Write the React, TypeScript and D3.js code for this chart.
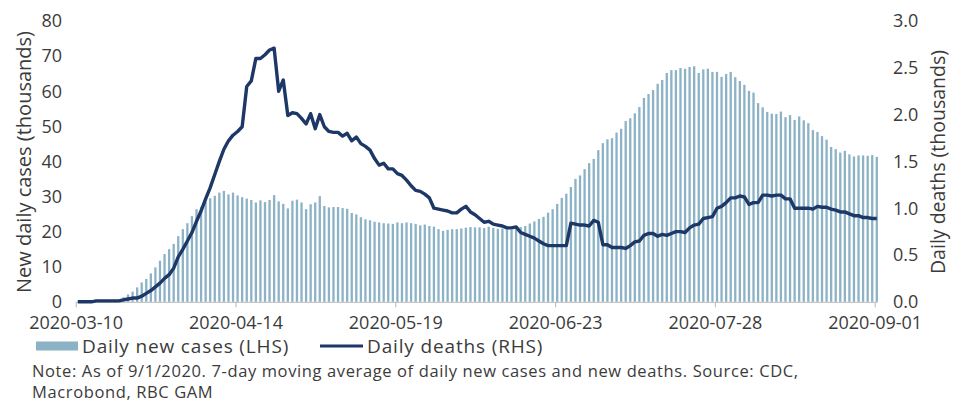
import React from "react";
import * as d3 from "d3";

const startDate = "2020-03-10";
const endDate = "2020-09-01";
const tickLabels = ["2020-03-10", "2020-04-14", "2020-05-19", "2020-06-23", "2020-07-28", "2020-09-01"];
const leftTicks = [0, 10, 20, 30, 40, 50, 60, 70, 80];
const rightTicks = [0, 0.5, 1, 1.5, 2, 2.5, 3];

// Daily new cases, 7-day moving average (thousands)
const cases = [
  0.1, 0.1, 0.1, 0.1, 0.1, 0.2, 0.2, 0.3, 0.4,
  0.5, 1.3, 2.1, 2.9, 4.1, 5.5, 6.5, 8.1, 9.8, 11.7, 13.6, 15.0, 16.5, 18.7, 20.7, 22.4, 24.4, 26.4, 27.1, 28.5, 29.5, 30.2, 31.1, 31.6, 30.6, 31.1, 30.3,
  29.8, 29.4, 29.0, 28.3, 28.9, 28.4, 29.0, 30.4, 28.6, 27.9, 26.6, 28.8, 29.1, 28.3, 26.4, 27.8, 28.3, 30.1, 27.3, 26.9, 27.0, 27.0, 26.7, 26.5, 25.3, 24.9, 24.1, 23.5, 23.2, 22.8, 22.6, 22.4, 22.3, 22.2, 22.6,
  22.4, 22.6, 22.4, 22.2, 21.8, 22.0, 21.6, 21.4, 20.7, 20.2, 20.5, 20.7, 20.7, 20.9, 21.1, 21.3, 21.2, 21.2, 21.0, 21.4, 21.0, 20.8, 20.9, 20.7, 20.5, 20.9, 21.3, 21.6, 22.3, 22.9, 23.6, 24.2, 25.4, 26.4, 27.9,
  29.6, 30.8, 32.7, 35.0, 36.0, 37.8, 39.5, 40.7, 43.2, 45.2, 46.3, 46.6, 48.2, 49.3, 51.5, 52.3, 53.7, 55.5, 58.1, 59.2, 60.3, 62.1, 63.2, 65.2, 66.0, 66.0, 66.6, 66.4, 66.9, 67.1, 65.2, 66.2, 66.4, 65.5, 65.5,
  64.1, 64.9, 65.5, 64.0, 62.9, 61.8, 60.1, 59.6, 56.6, 55.4, 54.1, 53.6, 53.5, 54.2, 52.6, 53.2, 51.8, 52.8, 51.7, 50.9, 48.9, 48.4, 47.2, 46.2, 44.1, 43.5, 42.5, 43.0, 42.0, 41.4, 41.7, 41.7, 41.6, 41.8, 41.3,
];

// Daily deaths, 7-day moving average (thousands)
const deaths = [
  0.0, 0.0, 0.0, 0.0, 0.01, 0.01, 0.01, 0.01, 0.01, 0.01, 0.02, 0.03, 0.04, 0.04, 0.06, 0.09, 0.12,
  0.16, 0.2, 0.25, 0.29, 0.36, 0.48, 0.56, 0.65, 0.74, 0.86, 0.97, 1.1, 1.22, 1.36, 1.5, 1.63, 1.72, 1.78, 1.82,
  1.87, 2.3, 2.36, 2.6, 2.6, 2.64, 2.69, 2.71, 2.25, 2.37, 1.99, 2.02, 2.01, 1.96, 1.9, 2.01, 1.85, 2.0, 1.87, 1.82, 1.81, 1.81, 1.77, 1.8, 1.72, 1.76, 1.69, 1.66, 1.62, 1.53, 1.46, 1.48, 1.42, 1.42, 1.37,
  1.35, 1.3, 1.24, 1.19, 1.18, 1.15, 1.11, 1.0, 0.99, 0.98, 0.97, 0.95, 0.95, 0.99, 1.02, 0.96, 0.93, 0.89, 0.85, 0.86, 0.83, 0.82, 0.81, 0.79, 0.79, 0.8, 0.74, 0.72, 0.7, 0.68, 0.65, 0.62, 0.6, 0.6, 0.6,
  0.6, 0.6, 0.84, 0.83, 0.82, 0.82, 0.81, 0.87, 0.85, 0.61, 0.61, 0.58, 0.58, 0.58, 0.57, 0.6, 0.64, 0.65, 0.71, 0.73, 0.73, 0.7, 0.72, 0.71, 0.73, 0.75, 0.75, 0.74, 0.79, 0.82, 0.83, 0.89, 0.9, 0.91, 1.0,
  1.02, 1.06, 1.11, 1.11, 1.13, 1.12, 1.04, 1.06, 1.06, 1.14, 1.14, 1.13, 1.14, 1.14, 1.1, 1.1, 1.0, 1.0, 1.0, 1.0, 0.99, 1.02, 1.01, 1.01, 0.99, 0.98, 0.96, 0.96, 0.94, 0.92, 0.92, 0.9, 0.9, 0.89, 0.89,
];

const BAR = "#8cb2c5";
const LINE = "#1d3767";
const TEXT = "#3b3b3b";
const FONT = "'Open Sans', sans-serif";

export default function App() {
  const W = 961;
  const H = 403;
  const parse = d3.utcParse("%Y-%m-%d");
  const t0 = parse(startDate)!;
  const t1 = parse(endDate)!;
  const dates = d3.utcDay.range(t0, d3.utcDay.offset(t1, 1));

  const x = d3.scaleUtc().domain([t0, t1]).range([77.8, 876.8]);
  const yL = d3.scaleLinear().domain([0, 80]).range([301.8, 21]);
  const yR = d3.scaleLinear().domain([0, 3]).range([301.8, 21]);
  const barW = 2.3;

  const line = d3
    .line<number>()
    .x((_, i) => x(dates[i]))
    .y((d) => yR(d));

  const axisY = 302.3;

  return (
    <svg
      width={W}
      height={H}
      style={{ position: "absolute", left: 0, top: 0, background: "#fff" }}
      fontFamily={FONT}
    >
      {/* bars */}
      <g fill={BAR}>
        {cases.map((v, i) => (
          <rect
            key={i}
            x={x(dates[i]) - barW / 2}
            y={yL(v)}
            width={barW}
            height={Math.max(0, yL(0) - yL(v))}
          />
        ))}
      </g>
      {/* x axis */}
      <line x1={76} x2={877.5} y1={axisY} y2={axisY} stroke="#b8b8b8" strokeWidth={1} />
      {tickLabels.map((t) => {
        const xp = x(parse(t)!) - 1.6;
        return (
          <g key={t}>
            <line x1={xp} x2={xp} y1={axisY} y2={axisY + 5} stroke="#b8b8b8" strokeWidth={1} />
            <text x={xp} y={329} textAnchor="middle" fontSize={18} fill={TEXT}>
              {t}
            </text>
          </g>
        );
      })}
      {/* deaths line */}
      <path
        d={line(deaths) || ""}
        fill="none"
        stroke={LINE}
        strokeWidth={3.4}
        strokeLinejoin="round"
        strokeLinecap="butt"
      />
      {/* left axis labels */}
      {leftTicks.map((t) => (
        <text key={t} x={62} y={yL(t)} dy="0.35em" textAnchor="end" fontSize={18} fill={TEXT}>
          {t}
        </text>
      ))}
      {/* right axis labels */}
      {rightTicks.map((t) => (
        <text key={t} x={893} y={yR(t)} dy="0.35em" textAnchor="start" fontSize={18} fill={TEXT}>
          {d3.format(".1f")(t)}
        </text>
      ))}
      <text
        transform={`translate(24,162) rotate(-90)`}
        textAnchor="middle"
        dy="0.35em"
        fontSize={20}
        fill={TEXT}
      >
        New daily cases (thousands)
      </text>
      <text
        transform={`translate(938,162) rotate(-90)`}
        textAnchor="middle"
        dy="0.35em"
        fontSize={19.5}
        fill={TEXT}
      >
        Daily deaths (thousands)
      </text>
      {/* legend */}
      <rect x={36} y={341.5} width={42} height={9} fill={BAR} />
      <text x={82} y={346} dy="0.35em" fontSize={19} letterSpacing={0.85} fill={TEXT}>
        Daily new cases (LHS)
      </text>
      <line x1={320} x2={363} y1={346} y2={346} stroke={LINE} strokeWidth={3} />
      <text x={367} y={346} dy="0.35em" fontSize={19} letterSpacing={0.85} fill={TEXT}>
        Daily deaths (RHS)
      </text>
      {/* note */}
      <text x={32} y={377} fontSize={16.5} letterSpacing={0.62} fill={TEXT}>
        Note: As of 9/1/2020. 7-day moving average of daily new cases and new deaths. Source: CDC,
      </text>
      <text x={32} y={397.5} fontSize={16.5} letterSpacing={0.62} fill={TEXT}>
        Macrobond, RBC GAM
      </text>
    </svg>
  );
}
